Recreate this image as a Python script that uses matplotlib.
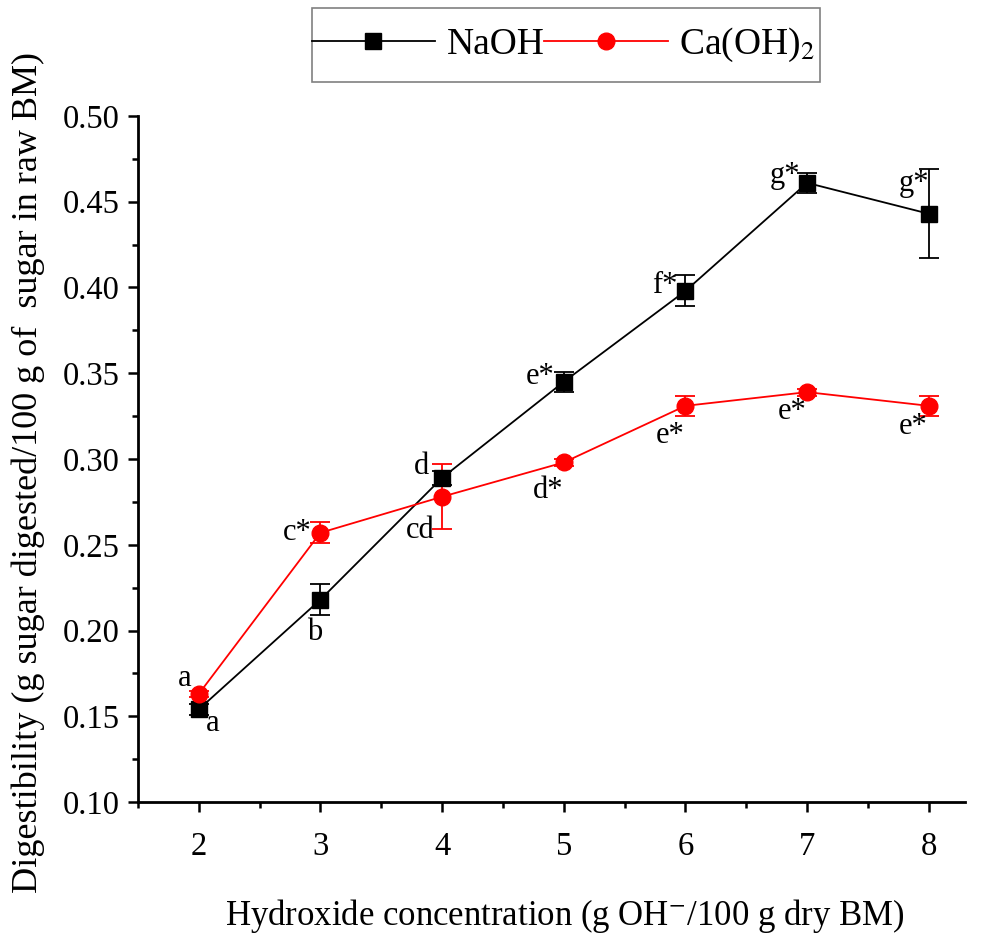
import matplotlib.pyplot as plt
from matplotlib.ticker import MultipleLocator
from matplotlib.lines import Line2D
from matplotlib.patches import Rectangle

plt.rcParams['font.family'] = 'Liberation Serif'
plt.rcParams['mathtext.fontset'] = 'stix'

conc = [2, 3, 4, 5, 6, 7, 8]
naoh = [0.154, 0.218, 0.289, 0.345, 0.398, 0.461, 0.443]
naoh_err = [0.003, 0.009, 0.004, 0.006, 0.009, 0.006, 0.026]
naoh_lbl = ['a', 'b', 'd', 'e*', 'f*', 'g*', 'g*']
caoh = [0.163, 0.257, 0.278, 0.298, 0.331, 0.339, 0.331]
caoh_err = [0.002, 0.006, 0.019, 0.002, 0.006, 0.002, 0.006]
caoh_lbl = ['a', 'c*', 'cd', 'd*', 'e*', 'e*', 'e*']

fig = plt.figure(figsize=(9.85, 9.43), dpi=100)
ax = fig.add_axes([0.140, 0.1495, 0.840, 0.7275])

ax.errorbar(conc, naoh, yerr=naoh_err, color='black', marker='s', ms=11,
            lw=1.3, capsize=7, elinewidth=1.3, capthick=1.3)
ax.errorbar(conc, caoh, yerr=caoh_err, color='red', marker='o', ms=12,
            lw=1.3, capsize=7, elinewidth=1.3, capthick=1.3)

# letter labels (offsets in points)
n_off = [(10, -10), (-4, -24), (-15, 8), (-17, 4), (-15, 4), (-16, 5), (-11, 22)]
c_off = [(-10, 11), (-17, 0), (-16, -24), (-11, -20), (-11, -21), (-11, -14), (-11, -15)]
for x, y, t, o in zip(conc, naoh, naoh_lbl, n_off):
    ax.annotate(t, (x, y), xytext=o, textcoords='offset points', ha='center', va='center', fontsize=22)
for x, y, t, o in zip(conc, caoh, caoh_lbl, c_off):
    ax.annotate(t, (x, y), xytext=o, textcoords='offset points', ha='center', va='center', fontsize=22)

ax.set_xlim(1.5, 8.3)
ax.set_ylim(0.1, 0.5)
ax.xaxis.set_major_locator(MultipleLocator(1))
ax.xaxis.set_minor_locator(MultipleLocator(0.5))
ax.yaxis.set_major_locator(MultipleLocator(0.05))
ax.yaxis.set_minor_locator(MultipleLocator(0.025))
ax.yaxis.set_major_formatter(plt.FormatStrFormatter('%.2f'))
for s in ['top', 'right']:
    ax.spines[s].set_visible(False)
for s in ['left', 'bottom']:
    ax.spines[s].set_linewidth(2)
ax.tick_params(which='major', direction='out', length=7, width=1.8, labelsize=23.5, pad=6)
ax.tick_params(axis='x', which='major', pad=14)
ax.tick_params(which='minor', direction='out', length=4, width=1.8)

ax.set_xlabel('Hydroxide concentration (g OH$^{-}$/100 g dry BM)', fontsize=25)
ax.set_ylabel('Digestibility (g sugar digested/100 g of  sugar in raw BM)', fontsize=26)
ax.xaxis.set_label_coords(0.516, -0.138)
ax.yaxis.set_label_coords(-0.112, 0.481)

h1 = Line2D([], [], color='black', marker='s', ms=11, lw=1.3)
h2 = Line2D([], [], color='red', marker='o', ms=12, lw=1.3)
leg = fig.legend(handles=[h1, h2], labels=['NaOH', 'Ca(OH)$_2$'], loc='center',
                 bbox_to_anchor=(0.572, 0.952), ncol=2, fontsize=27, frameon=False,
                 handlelength=3.3, columnspacing=0.0, handletextpad=0.3,
                 borderpad=0.2, borderaxespad=0)
# legend frame
fig.patches.append(Rectangle((312 / 985, 1 - 82 / 943), 508 / 985, 74 / 943,
                             transform=fig.transFigure, fill=False,
                             edgecolor='gray', lw=1.2))

plt.savefig('out.png')
